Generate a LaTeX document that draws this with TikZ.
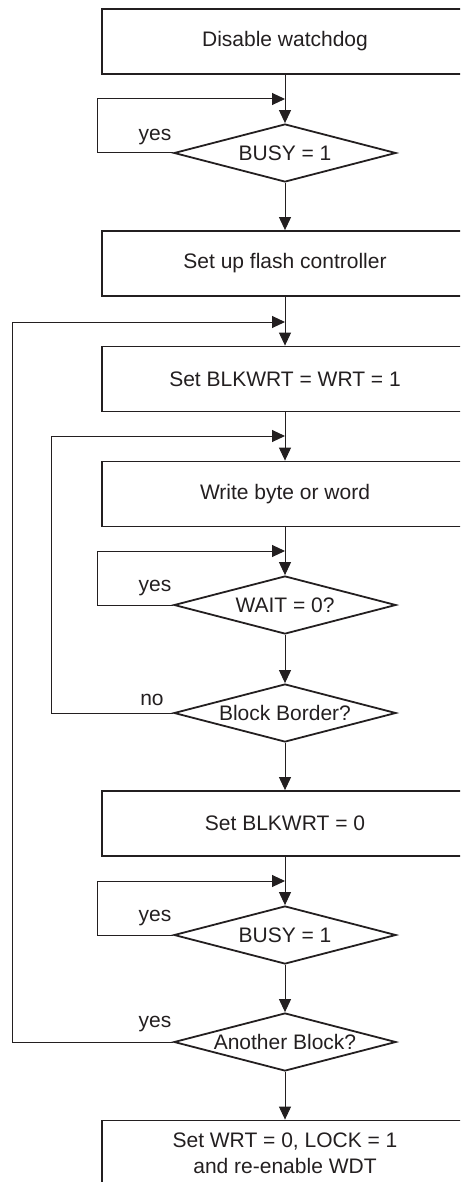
\documentclass[tikz,border=0pt]{standalone}
\usepackage{fontspec}
\setmainfont{Liberation Sans}
\usepackage{xcolor}
\usepackage{tikz}
\usetikzlibrary{arrows.meta,shapes.geometric}
\definecolor{flowgray}{HTML}{231F20}

\begin{document}
\begin{tikzpicture}[x=1pt,y=-1pt,
    every node/.style={font=\fontsize{21}{26}\selectfont,text=flowgray},
    stepbox/.style={draw=flowgray,line width=1.8pt,minimum width=366pt,minimum height=65pt,inner sep=0pt,align=center},
    decision/.style={diamond,draw=flowgray,line width=1.8pt,aspect=3.83,inner sep=0pt,minimum width=222pt,minimum height=58pt},
    flow/.style={draw=flowgray,line width=1pt,-{Triangle[length=13pt,width=12pt]}}]
    \useasboundingbox (0,0) rectangle (460,1182);
    \clip (0,0) rectangle (460,1182);
    \node[stepbox] (b1) at (285,41.5) {Disable watchdog};
    \node[decision] (d1) at (285,153) {BUSY = 1};
    \node[stepbox] (b2) at (285,263.5) {Set up flash controller};
    \node[stepbox] (b3) at (285,379) {Set BLKWRT = WRT = 1};
    \node[stepbox] (b4) at (285,494) {Write byte or word};
    \node[decision] (d2) at (285,605) {WAIT = 0?};
    \node[decision] (d3) at (285,713) {Block Border?};
    \node[stepbox] (b5) at (285,823.5) {Set BLKWRT = 0};
    \node[decision] (d4) at (285,935) {BUSY = 1};
    \node[decision] (d5) at (285,1042) {Another Block?};
    \node[stepbox] (b6) at (285,1153) {Set WRT = 0, LOCK = 1\\and re-enable WDT};
    % junctions on the main line
    \coordinate (j1) at (285,99);
    \coordinate (j2) at (285,322);
    \coordinate (j3) at (285,436);
    \coordinate (j4) at (285,551);
    \coordinate (j5) at (285,881);
    % labels
    \node (yes1) at (155,137) {yes};
    \node (yes2) at (155,588) {yes};
    \node (no1) at (152,700) {no};
    \node (yes3) at (155,918) {yes};
    \node (yes4) at (155,1024) {yes};
    % main line
    \draw[flow] (b1) -- (d1);
    \draw[flow] (d1) -- (b2);
    \draw[flow] (b2) -- (b3);
    \draw[flow] (b3) -- (b4);
    \draw[flow] (b4) -- (d2);
    \draw[flow] (d2) -- (d3);
    \draw[flow] (d3) -- (b5);
    \draw[flow] (b5) -- (d4);
    \draw[flow] (d4) -- (d5);
    \draw[flow] (d5) -- (b6);
    % loops back
    \draw[flow] (d1.west) -- ++(-76,0) |- (j1);
    \draw[flow] (d2.west) -- ++(-76,0) |- (j4);
    \draw[flow] (d3.west) -- ++(-122,0) |- (j3);
    \draw[flow] (d4.west) -- ++(-76,0) |- (j5);
    \draw[flow] (d5.west) -- ++(-161,0) |- (j2);
\end{tikzpicture}
\end{document}
